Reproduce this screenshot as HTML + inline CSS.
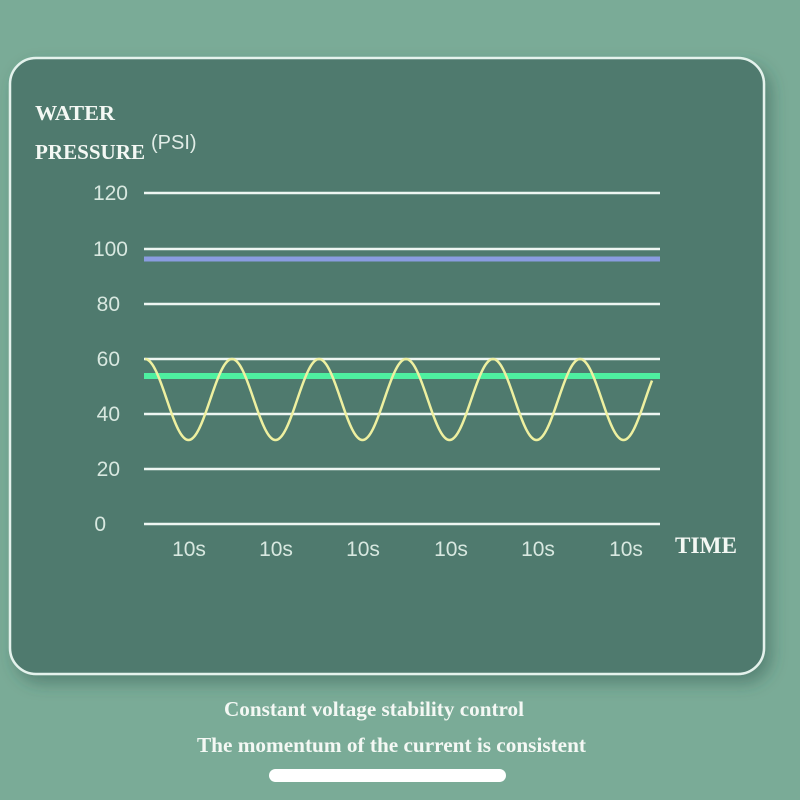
<!DOCTYPE html>
<html><head><meta charset="utf-8"><style>
html,body{margin:0;padding:0;width:800px;height:800px;overflow:hidden;background:#7aab97;}
svg{display:block}
</style></head><body>
<svg width="800" height="800" xmlns="http://www.w3.org/2000/svg">
<defs><filter id="sh" x="-10%" y="-10%" width="130%" height="130%"><feDropShadow dx="6" dy="8" stdDeviation="8" flood-color="#2e5448" flood-opacity="0.45"/></filter></defs>
<rect x="0" y="0" width="800" height="800" fill="#7aab97"/>
<rect x="10" y="58" width="754" height="616" rx="26" fill="#4f7a6e" stroke="#e4f2ec" stroke-width="2.5" filter="url(#sh)"/>
<g font-family="Liberation Serif, serif" font-weight="bold" fill="#f4f8f4">
<text x="35" y="120" font-size="21" textLength="80" lengthAdjust="spacingAndGlyphs">WATER</text>
<text x="35" y="159" font-size="21" textLength="110" lengthAdjust="spacingAndGlyphs">PRESSURE</text>
<text x="675" y="553" font-size="23" textLength="62" lengthAdjust="spacingAndGlyphs">TIME</text>
<text x="224" y="716" font-size="21" textLength="300" lengthAdjust="spacingAndGlyphs">Constant voltage stability control</text>
<text x="197" y="752" font-size="21" textLength="389" lengthAdjust="spacingAndGlyphs">The momentum of the current is consistent</text>
</g>
<text x="151" y="149" font-family="Liberation Sans, sans-serif" font-size="20" fill="#e0ece6">(PSI)</text>
<g font-family="Liberation Sans, sans-serif" font-size="21" fill="#d8e8e0" text-anchor="end">
<text x="128" y="200">120</text><text x="128" y="256">100</text><text x="120" y="311">80</text>
<text x="120" y="366">60</text><text x="120" y="421">40</text><text x="120" y="476">20</text><text x="106" y="531">0</text>
</g>
<g font-family="Liberation Sans, sans-serif" font-size="21" fill="#d8e8e0" text-anchor="middle">
<text x="189" y="556">10s</text><text x="276" y="556">10s</text><text x="363" y="556">10s</text>
<text x="451" y="556">10s</text><text x="538" y="556">10s</text><text x="626" y="556">10s</text>
</g>
<g stroke="#eef6f2" stroke-width="2.5">
<line x1="144" y1="193" x2="660" y2="193"/><line x1="144" y1="249" x2="660" y2="249"/>
<line x1="144" y1="304" x2="660" y2="304"/><line x1="144" y1="359" x2="660" y2="359"/>
<line x1="144" y1="414" x2="660" y2="414"/><line x1="144" y1="469" x2="660" y2="469"/>
<line x1="144" y1="524" x2="660" y2="524"/>
</g>
<line x1="144" y1="259" x2="660" y2="259" stroke="#8a9ce0" stroke-width="5"/>
<line x1="144" y1="376" x2="660" y2="376" stroke="#4ef0a0" stroke-width="6"/>
<path id="w" fill="none" stroke="#eef0a0" stroke-width="2.5"/>
<rect x="269" y="769" width="237" height="13" rx="6.5" fill="#ffffff"/>
</svg>
<script>
var d="";for(var x=145;x<=652;x+=1){var y=399.5-40.5*Math.cos(2*Math.PI*(x-145)/87);d+=(x==145?"M":"L")+x+" "+y.toFixed(2)+" ";}
document.getElementById("w").setAttribute("d",d);
</script>
</body></html>
